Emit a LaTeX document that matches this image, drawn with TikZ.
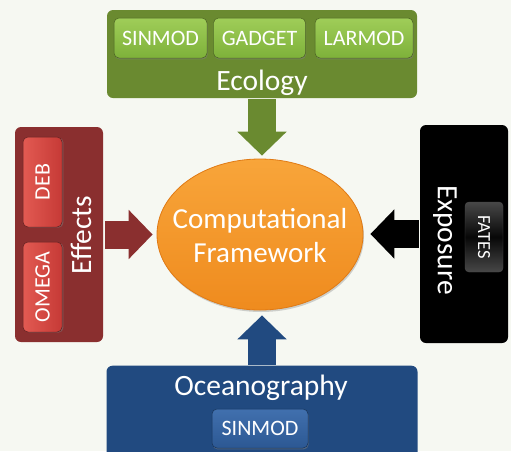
\documentclass[tikz,border=0pt]{standalone}
\usepackage{fontspec}
\setmainfont{Carlito}
\usetikzlibrary{arrows.meta,shadows,positioning,calc,shapes.geometric}

\definecolor{bgpaper}{HTML}{F6F8F2}
\definecolor{ecogreen}{HTML}{6A8A30}
\definecolor{effred}{HTML}{8A2F2F}
\definecolor{oceblue}{HTML}{214A80}
\definecolor{cfhi}{HTML}{F8A53A}
\definecolor{cflo}{HTML}{EF8B1E}
\definecolor{cfrim}{HTML}{E07A14}
\definecolor{gbtnhi}{HTML}{9FCD58}
\definecolor{gbtnlo}{HTML}{7EB13A}
\definecolor{rbtnhi}{HTML}{E25A52}
\definecolor{rbtnlo}{HTML}{C63A36}
\definecolor{bbtnhi}{HTML}{4170AE}
\definecolor{bbtnlo}{HTML}{2C5893}

\tikzset{
  panel/.style={draw=none, rounded corners=6pt, inner sep=0pt},
  btntext/.style={text=white, inner sep=0pt, font=\fontsize{22}{24}\selectfont},
  greenbtn/.style={btntext, rounded corners=5pt, draw=ecogreen!70!black, line width=0.5pt,
    top color=gbtnhi, bottom color=gbtnlo,
    drop shadow={shadow xshift=0.6pt, shadow yshift=-1.4pt, opacity=0.5},
    minimum height=40pt},
  redbtn/.style={btntext, rounded corners=5pt, draw=effred!70!black, line width=0.5pt,
    left color=rbtnhi, right color=rbtnlo,
    drop shadow={shadow xshift=1.4pt, shadow yshift=-0.6pt, opacity=0.5},
    minimum width=90pt, minimum height=39pt},
  bluebtn/.style={btntext, rounded corners=5pt, draw=oceblue!70!black, line width=0.5pt,
    top color=bbtnhi, bottom color=bbtnlo,
    drop shadow={shadow xshift=0.6pt, shadow yshift=-1.4pt, opacity=0.5},
    minimum width=96pt, minimum height=39pt},
  blackbtn/.style={btntext, font=\fontsize{18.5}{21}\selectfont, rounded corners=4pt,
    draw=black!70, line width=0.4pt,
    top color=black!72, bottom color=black!72, middle color=black!97,
    minimum width=70pt, minimum height=38pt},
  title/.style={text=white, font=\fontsize{29.5}{31}\selectfont, inner sep=0pt},
  flow/.style={line width=28pt, -{Triangle[width=48pt,length=24pt]}},
}

\begin{document}
\begin{tikzpicture}[x=1pt,y=-1pt]
  \fill[bgpaper] (0,0) rectangle (511,451);
  \useasboundingbox (0,0) rectangle (511,451);

  % central framework
  \node[ellipse, minimum width=206pt, minimum height=151pt, inner sep=0pt,
        top color=cfhi, bottom color=cflo, draw=cfrim, line width=0.8pt,
        drop shadow={shadow xshift=1pt, shadow yshift=-2pt, opacity=0.35}]
        (cf) at (260,234.5) {};
  \node[text=white, font=\fontsize{29}{34}\selectfont, align=center, inner sep=0pt]
        (cftext) at (260,236) {Computational\\Framework};

  % Ecology panel
  \node[panel, fill=ecogreen, minimum width=310pt, minimum height=88pt] (eco) at (262,54) {};
  \node[greenbtn, minimum width=93pt] (sin1) at (160.5,38) {SINMOD};
  \node[greenbtn, minimum width=92pt] (gad) at (259.5,38) {GADGET};
  \node[greenbtn, minimum width=98pt] (lar) at (364,38) {LARMOD};
  \node[title, anchor=base] (ecot) at (262,90) {Ecology};

  % Effects panel
  \node[panel, fill=effred, minimum width=88pt, minimum height=215pt] (eff) at (59,234.5) {};
  \node[redbtn, rotate=90] (deb) at (42.5,182) {DEB};
  \node[redbtn, rotate=90] (omg) at (42.5,287) {OMEGA};
  \node[title, rotate=90] (efft) at (81,235) {Effects};

  % Exposure panel
  \node[panel, fill=black, minimum width=88pt, minimum height=218pt] (expo) at (464,234) {};
  \node[blackbtn, rotate=-90] (fat) at (484,237) {FATES};
  \node[title, rotate=-90] (expt) at (445,240) {Exposure};

  % Oceanography panel
  \node[panel, fill=oceblue, minimum width=311pt, minimum height=100pt, anchor=north] (oce) at (262,365.5) {};
  \node[title, anchor=base] (ocet) at (261,395) {Oceanography};
  \node[bluebtn] (sin2) at (260,428.5) {SINMOD};

  % block arrows into the framework
  \draw[flow, ecogreen, shorten <=1pt, shorten >=3pt] (eco.south) -- (eco.south |- cf.north);
  \draw[flow, oceblue, shorten <=1pt, shorten >=5pt] (oce.north) -- (oce.north |- cf.south);
  \draw[flow, effred, shorten <=2pt, shorten >=4pt] (eff.east) -- (eff.east -| cf.west);
  \draw[flow, black, shorten <=1pt, shorten >=7pt] (expo.west) -- (expo.west -| cf.east);
\end{tikzpicture}
\end{document}
